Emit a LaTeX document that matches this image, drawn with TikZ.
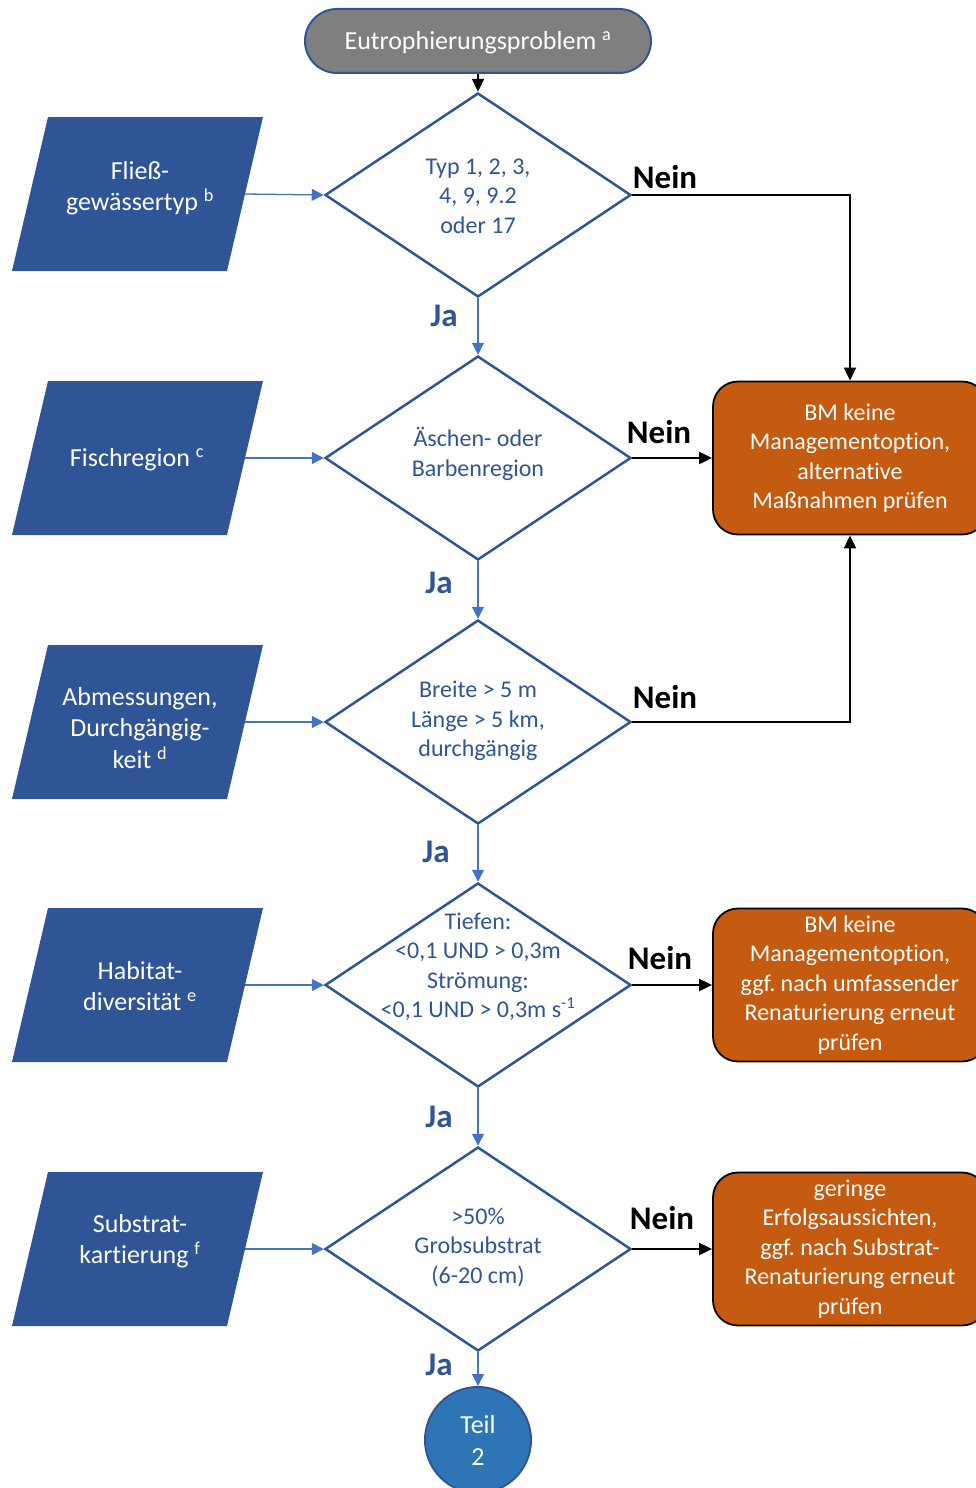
\documentclass[tikz,border=0pt]{standalone}
\usepackage{fontspec}
\setmainfont[Ligatures=CommonOff]{Carlito}
\usetikzlibrary{shapes.geometric,arrows.meta}
\definecolor{dblue}{HTML}{2F5597}
\definecolor{lblue}{HTML}{4472C4}
\definecolor{orng}{HTML}{C55A11}
\definecolor{gry}{HTML}{7F7F7F}
\definecolor{cblue}{HTML}{2E75B6}
\newcommand{\paral}[2]{%
  \begin{scope}[shift={(137.5,#2)}]
    \fill[dblue] (-89.5,-77) -- (125.5,-77) -- (89.5,77) -- (-125.5,77) -- cycle;
    \coordinate (#1) at (107.5,0);
  \end{scope}}
\frenchspacing
\begin{document}
\begin{tikzpicture}[x=1pt,y=-1pt,
 dec/.style={diamond, draw=dblue, line width=2.5pt, minimum width=306pt, minimum height=204pt, inner sep=0pt},
 dtext/.style={text=dblue, font=\fontsize{24}{29.5}\selectfont, align=center, inner sep=0pt},
 ptext/.style={text=white, font=\fontsize{26}{31.5}\selectfont, align=center, inner sep=0pt},
 res/.style={rectangle, rounded corners=25pt, draw=black, line width=1.8pt, fill=orng, minimum width=274pt, minimum height=153pt, text=white, font=\fontsize{24}{29.5}\selectfont, align=center, inner sep=0pt},
 barr/.style={draw=lblue, line width=1.3pt, -{Triangle[length=12pt,width=12pt]}},
 karr/.style={draw=black, line width=2pt, -{Triangle[length=13pt,width=12pt]}},
 nein/.style={font=\fontsize{33}{40}\selectfont\bfseries, inner sep=0pt},
 ja/.style={font=\fontsize{33}{40}\selectfont\bfseries, text=dblue, inner sep=0pt},
]
\useasboundingbox (0,0) rectangle (976,1488);

% start
\node[rectangle, rounded corners=32pt, fill=gry, draw=dblue, line width=2pt, minimum width=346pt, minimum height=64pt] (top) at (478,41) {};
\node[text=white, font=\fontsize{26}{31.5}\selectfont, inner sep=0pt] (topt) at (478,43) {Eutrophierungsproblem \textsuperscript{a}};

% decisions
\node[dec] (d1) at (478,195) {};
\node[dec] (d2) at (478,458) {};
\node[dec] (d3) at (478,722) {};
\node[dec] (d4) at (478,985) {};
\node[dec] (d5) at (478,1249) {};
\node[dtext] (d1t) at (478,196) {Typ 1, 2, 3,\\4, 9, 9.2\\oder 17};
\node[dtext] (d2t) at (478,454) {Äschen- oder\\Barbenregion};
\node[dtext] (d3t) at (478,721) {Breite > 5 m\\Länge > 5 km,\\durchgängig};
\node[dtext] (d4t) at (478,967) {Tiefen:\\<0,1 UND > 0,3m\\Strömung:\\<0,1 UND > 0,3m s\textsuperscript{-1}};
\node[dtext] (d5t) at (478,1247) {>50\%\\Grobsubstrat\\(6-20 cm)};

% inputs
\paral{p1}{194}
\paral{p2}{458}
\paral{p3}{722}
\paral{p4}{985}
\paral{p5}{1249}
\node[ptext] (p1t) at (140,188) {Fließ-\\gewässertyp \textsuperscript{b}};
\node[ptext] (p2t) at (137,460) {Fischregion \textsuperscript{c}};
\node[ptext] (p3t) at (140,728) {Abmessungen,\\Durchgängig-\\keit \textsuperscript{d}};
\node[ptext] (p4t) at (140,986) {Habitat-\\diversität \textsuperscript{e}};
\node[ptext] (p5t) at (140,1241) {Substrat-\\kartierung \textsuperscript{f}};

% results
\node[res] (r1) at (850,458) {BM keine\\Managementoption,\\alternative\\Maßnahmen prüfen};
\node[res] (r2) at (850,985) {BM keine\\Managementoption,\\ggf. nach umfassender\\Renaturierung erneut\\prüfen};
\node[res] (r3) at (850,1249) {geringe\\Erfolgsaussichten,\\ggf. nach Substrat-\\Renaturierung erneut\\prüfen};

% end
\node[circle, fill=cblue, draw=dblue, line width=2pt, minimum size=106pt, text=white, align=center, font=\fontsize{26}{32}\selectfont, inner sep=0pt] (c) at (478,1440) {Teil\\2};

% connectors
\draw[karr] (top.south) -- (d1.north);
\draw[barr] (d1.south) -- (d2.north);
\draw[barr] (d2.south) -- (d3.north);
\draw[barr] (d3.south) -- (d4.north);
\draw[barr] (d4.south) -- (d5.north);
\draw[barr] (d5.south) -- (c.north);
\draw[barr] (p1) -- (d1.west);
\draw[barr] (p2) -- (d2.west);
\draw[barr] (p3) -- (d3.west);
\draw[barr] (p4) -- (d4.west);
\draw[barr] (p5) -- (d5.west);
\draw[karr] (d1.east) -| (r1.north);
\draw[karr] (d2.east) -- (r1.west);
\draw[karr] (d3.east) -| (r1.south);
\draw[karr] (d4.east) -- (r2.west);
\draw[karr] (d5.east) -- (r3.west);

% labels
\node[nein] (n1) at (665,177) {Nein};
\node[nein] (n2) at (659,432) {Nein};
\node[nein] (n3) at (665,697) {Nein};
\node[nein] (n4) at (660,958) {Nein};
\node[nein] (n5) at (662,1218) {Nein};
\node[ja] (j1) at (444,316) {Ja};
\node[ja] (j2) at (439,583) {Ja};
\node[ja] (j3) at (436,852) {Ja};
\node[ja] (j4) at (439,1117) {Ja};
\node[ja] (j5) at (439,1365) {Ja};
\end{tikzpicture}
\end{document}
